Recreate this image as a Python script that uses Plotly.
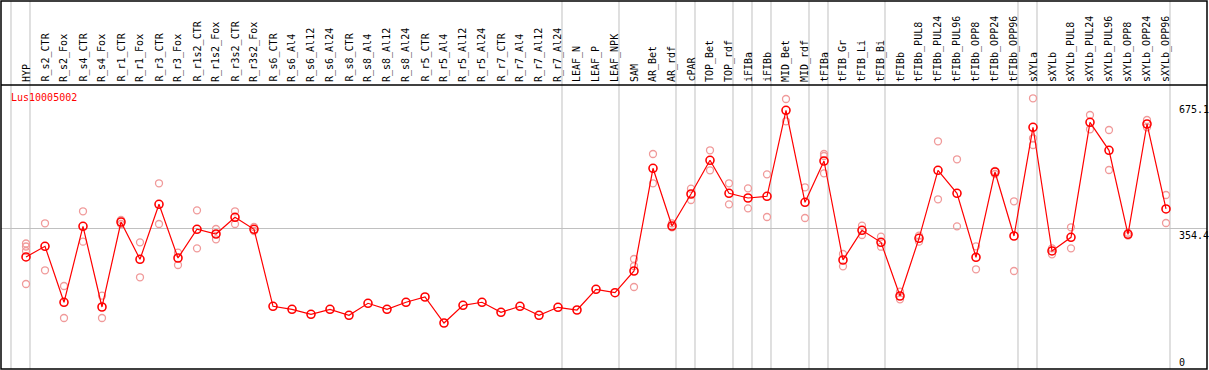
import plotly.graph_objects as go

categories = ["HYP", "R_s2_CTR", "R_s2_Fox", "R_s4_CTR", "R_s4_Fox", "R_r1_CTR", "R_r1_Fox",
              "R_r3_CTR", "R_r3_Fox", "R_r1s2_CTR", "R_r1s2_Fox", "R_r3s2_CTR", "R_r3s2_Fox",
              "R_s6_CTR", "R_s6_Al4", "R_s6_Al12", "R_s6_Al24", "R_s8_CTR", "R_s8_Al4",
              "R_s8_Al12", "R_s8_Al24", "R_r5_CTR", "R_r5_Al4", "R_r5_Al12", "R_r5_Al24",
              "R_r7_CTR", "R_r7_Al4", "R_r7_Al12", "R_r7_Al24", "LEAF_N", "LEAF_P", "LEAF_NPK",
              "SAM", "AR_Bet", "AR_rdf", "cPAR", "TOP_Bet", "TOP_rdf", "iFIBa", "iFIBb",
              "MID_Bet", "MID_rdf", "tFIBa", "tFIB_Gr", "tFIB_Li", "tFIB_Bi", "tFIBb",
              "tFIBb_PUL8", "tFIBb_PUL24", "tFIBb_PUL96", "tFIBb_OPP8", "tFIBb_OPP24",
              "tFIBb_OPP96", "sXYLa", "sXYLb", "sXYLb_PUL8", "sXYLb_PUL24", "sXYLb_PUL96",
              "sXYLb_OPP8", "sXYLb_OPP24", "sXYLb_OPP96"]

mean_values = [280.5, 307.7, 165.0, 358.7, 153.0, 369.7, 274.6, 414.8, 277.9, 351.1, 339.1,
               381.7, 351.1, 154.8, 147.1, 134.4, 147.1, 131.8, 162.4, 147.1, 165.0, 178.5,
               112.2, 157.3, 165.0, 139.5, 154.8, 131.8, 152.2, 145.3, 198.1, 189.4, 244.8,
               506.6, 359.5, 441.1, 527.0, 442.9, 430.9, 435.2, 654.5, 419.9, 525.2, 272.8,
               348.5, 318.0, 181.0, 328.1, 501.5, 442.9, 279.7, 497.2, 334.0, 611.2, 295.8,
               330.7, 623.9, 552.5, 338.3, 619.6, 402.9]

replicates = [
    [314.9, 307.2, 295.8, 211.6], [366.4, 246.6], [206.5, 124.9], [397.0, 319.5],
    [181.8, 124.9], [374.8, 364.6], [317.9, 228.7], [468.4, 364.6], [291.4, 260.1],
    [399.5, 302.6], [351.9, 325.6], [397.0, 364.6], [357.0, 346.8],
    [], [], [], [], [], [], [], [], [], [], [], [], [], [], [], [], [], [], [],
    [275.4, 257.5, 204.0], [543.1, 468.4], [366.4, 356.2], [454.6, 425.8], [552.5, 501.5],
    [468.4, 414.8], [455.6, 404.6], [491.3, 382.5], [683.3, 626.5], [458.2, 379.9],
    [543.1, 538.0, 493.9], [288.1, 256.6], [360.3, 336.6], [332.2, 306.7], [192.0, 172.6],
    [334.8, 319.5], [575.5, 427.6], [529.6, 358.7], [307.7, 249.1], [499.7, 492.1],
    [422.5, 244.8], [685.1, 583.1, 566.0], [302.6, 287.4], [356.2, 302.6], [642.5, 606.1],
    [604.3, 502.3], [342.4, 334.8], [629.8, 611.2], [438.6, 367.2]]

axis_labels = ["675.1", "354.4", "0"]
axis_values = [675.1, 354.4, 0]
group_separators = [-1, 0, 28, 31, 34, 35, 37, 38, 39, 41, 42, 45, 52, 53, 60]
gene_name = "Lus10005002"

xs = list(range(len(categories)))
rep_x, rep_y = [], []
for i, reps in enumerate(replicates):
    for v in reps:
        rep_x.append(i)
        rep_y.append(v)

fig = go.Figure()
fig.add_trace(go.Scatter(x=rep_x, y=rep_y, mode="markers",
                         marker=dict(symbol="circle-open", size=7, color="#f09a9a",
                                     line=dict(color="#f09a9a", width=1.3)),
                         showlegend=False, hoverinfo="skip"))
fig.add_trace(go.Scatter(x=xs, y=mean_values, mode="lines+markers",
                         line=dict(color="#ff0000", width=1.2),
                         marker=dict(symbol="circle-open", size=8, color="#ff0000",
                                     line=dict(color="#ff0000", width=1.6)),
                         showlegend=False))

FONT = "DejaVu Sans Mono"
top_ext = 1 + 84 / 284

shapes = []
for g in group_separators:
    shapes.append(dict(type="line", xref="x", yref="paper", x0=g + 0.21, x1=g + 0.21,
                       y0=0, y1=top_ext, line=dict(color="#c0c0c0", width=1), layer="below"))
shapes.append(dict(type="rect", xref="paper", yref="paper", x0=0, x1=1, y0=0, y1=top_ext,
                   line=dict(color="black", width=1.5)))
shapes.append(dict(type="line", xref="paper", yref="paper", x0=0, x1=1, y0=1, y1=1,
                   line=dict(color="black", width=1.5)))

annotations = []
for i, c in enumerate(categories):
    annotations.append(dict(x=i, y=1, xref="x", yref="paper", text=c, showarrow=False,
                            textangle=-90, xanchor="center", yanchor="bottom", yshift=1,
                            font=dict(family=FONT, size=10, color="black")))
for lab, v in zip(axis_labels, axis_values):
    annotations.append(dict(x=0.975, y=v, xref="paper", yref="y", text=lab, showarrow=False,
                            xanchor="left", yanchor="top" if v > 0 else "bottom",
                            yshift=0 if v > 0 else -3,
                            font=dict(family=FONT, size=10, color="black")))
annotations.append(dict(x=8 / 1206, y=(369 - 97) / 284, xref="paper", yref="paper",
                        text=gene_name, showarrow=False, xanchor="left", yanchor="middle",
                        font=dict(family=FONT, size=10, color="#ff0000")))

fig.update_layout(
    width=1209, height=370,
    margin=dict(l=1, r=2, t=85, b=1),
    paper_bgcolor="white", plot_bgcolor="white",
    xaxis=dict(range=[-25 / 19, (1207 - 26) / 19], showticklabels=False, showgrid=False,
               zeroline=False, showline=False, ticks=""),
    yaxis=dict(range=[-5.1, 719.0], tickvals=[354.4], showticklabels=False, showgrid=True,
               gridcolor="#c0c0c0", gridwidth=1, zeroline=False, showline=False, ticks=""),
    shapes=shapes, annotations=annotations,
)

fig.write_html("out.html", config={"displayModeBar": False},
               post_script="document.body.style.margin='0';document.body.style.overflow='hidden';")
